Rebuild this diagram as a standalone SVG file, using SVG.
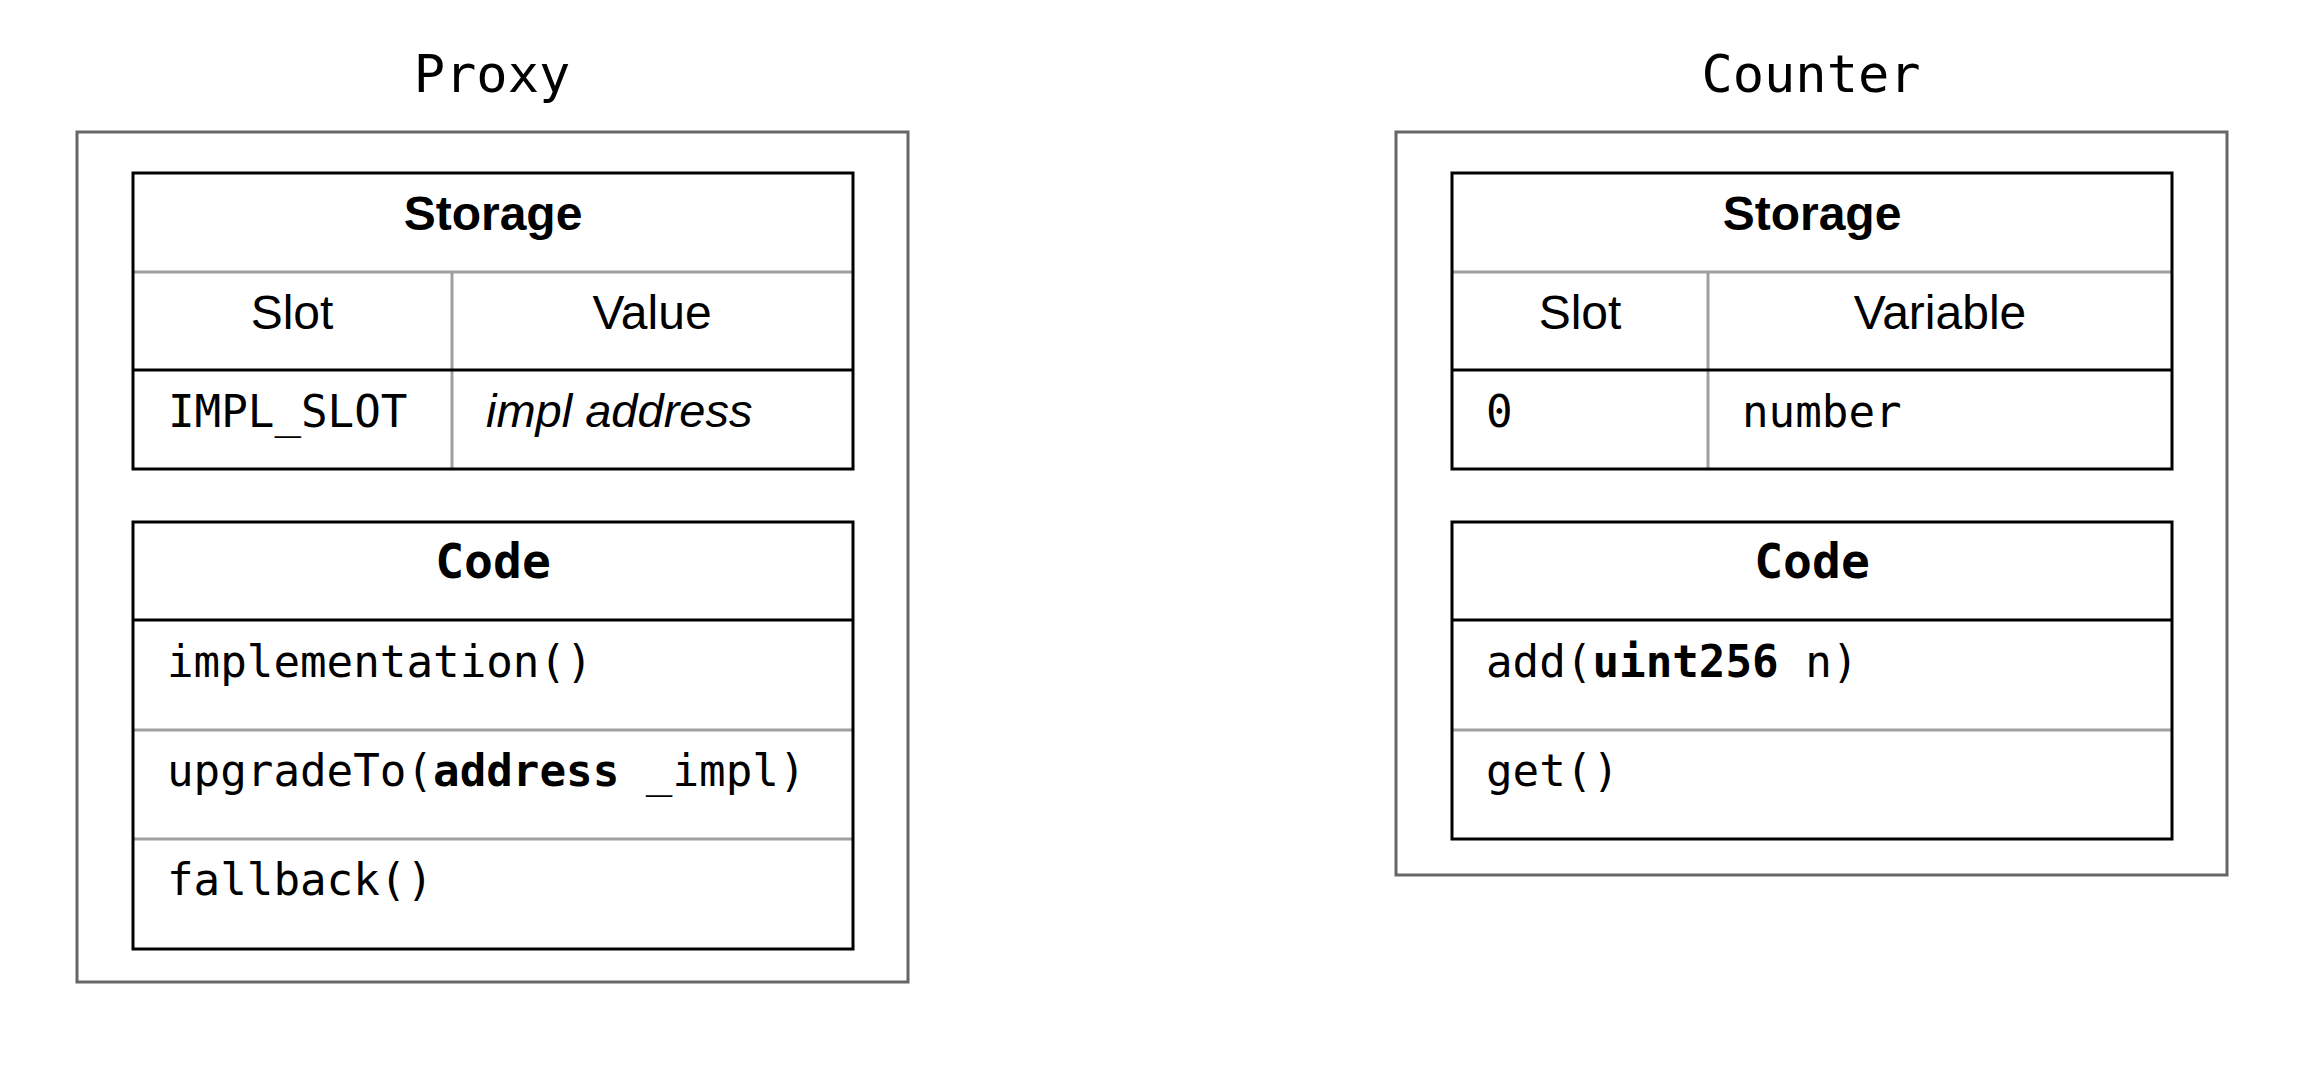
<svg xmlns="http://www.w3.org/2000/svg" width="2314" height="1074" viewBox="0 0 2314 1074">
<style>
.outer{fill:#fff;stroke:#666;stroke-width:3}
.tbl{fill:none;stroke:#000;stroke-width:3}
.blk{stroke:#000;stroke-width:3}
.gry{stroke:#a0a0a0;stroke-width:3}
.title{font-family:"DejaVu Sans Mono",monospace;font-size:52px;fill:#000;text-anchor:middle}
.hdr{font-family:"Liberation Sans",Arial,sans-serif;font-size:48px;font-weight:bold;fill:#000;text-anchor:middle}
.col{font-family:"Liberation Sans",Arial,sans-serif;font-size:48px;fill:#000;text-anchor:middle}
.it{font-family:"Liberation Sans",Arial,sans-serif;font-size:47px;font-style:italic;fill:#000}
.code{font-family:"DejaVu Sans Mono",monospace;font-size:44.2px;fill:#000}
.codeh{font-family:"DejaVu Sans Mono",monospace;font-size:48px;font-weight:bold;fill:#000;text-anchor:middle}
.b{font-weight:bold}
</style>
<rect width="2314" height="1074" fill="#fff"/>
<g id="proxy">
<text class="title" x="492" y="92">Proxy</text>
<rect class="outer" x="77" y="132" width="831" height="850"/>
<g id="proxy-storage">
<line class="gry" x1="133" y1="272" x2="853" y2="272"/>
<line class="gry" x1="452" y1="272" x2="452" y2="469"/>
<line class="blk" x1="133" y1="370" x2="853" y2="370"/>
<rect class="tbl" x="133" y="173" width="720" height="296"/>
<text class="hdr" x="493" y="230">Storage</text>
<text class="col" x="292" y="329">Slot</text>
<text class="col" x="652" y="329">Value</text>
<text class="code" x="168" y="427">IMPL_SLOT</text>
<text class="it" x="486" y="427">impl address</text>
</g>
<g id="proxy-code">
<line class="blk" x1="133" y1="620" x2="853" y2="620"/>
<line class="gry" x1="133" y1="730" x2="853" y2="730"/>
<line class="gry" x1="133" y1="839" x2="853" y2="839"/>
<rect class="tbl" x="133" y="522" width="720" height="427"/>
<text class="codeh" x="493" y="578">Code</text>
<text class="code" x="167" y="677">implementation()</text>
<text class="code" x="167" y="786">upgradeTo(<tspan class="b">address</tspan> _impl)</text>
<text class="code" x="167" y="895">fallback()</text>
</g>
</g>
<g id="counter">
<text class="title" x="1811" y="92">Counter</text>
<rect class="outer" x="1396" y="132" width="831" height="743"/>
<g id="counter-storage">
<line class="gry" x1="1452" y1="272" x2="2172" y2="272"/>
<line class="gry" x1="1708" y1="272" x2="1708" y2="469"/>
<line class="blk" x1="1452" y1="370" x2="2172" y2="370"/>
<rect class="tbl" x="1452" y="173" width="720" height="296"/>
<text class="hdr" x="1812" y="230">Storage</text>
<text class="col" x="1580" y="329">Slot</text>
<text class="col" x="1940" y="329">Variable</text>
<text class="code" x="1486" y="427">0</text>
<text class="code" x="1742" y="427">number</text>
</g>
<g id="counter-code">
<line class="blk" x1="1452" y1="620" x2="2172" y2="620"/>
<line class="gry" x1="1452" y1="730" x2="2172" y2="730"/>
<rect class="tbl" x="1452" y="522" width="720" height="317"/>
<text class="codeh" x="1812" y="578">Code</text>
<text class="code" x="1486" y="677">add(<tspan class="b">uint256</tspan> n)</text>
<text class="code" x="1486" y="786">get()</text>
</g>
</g>
<g id="connectors"/>
</svg>
